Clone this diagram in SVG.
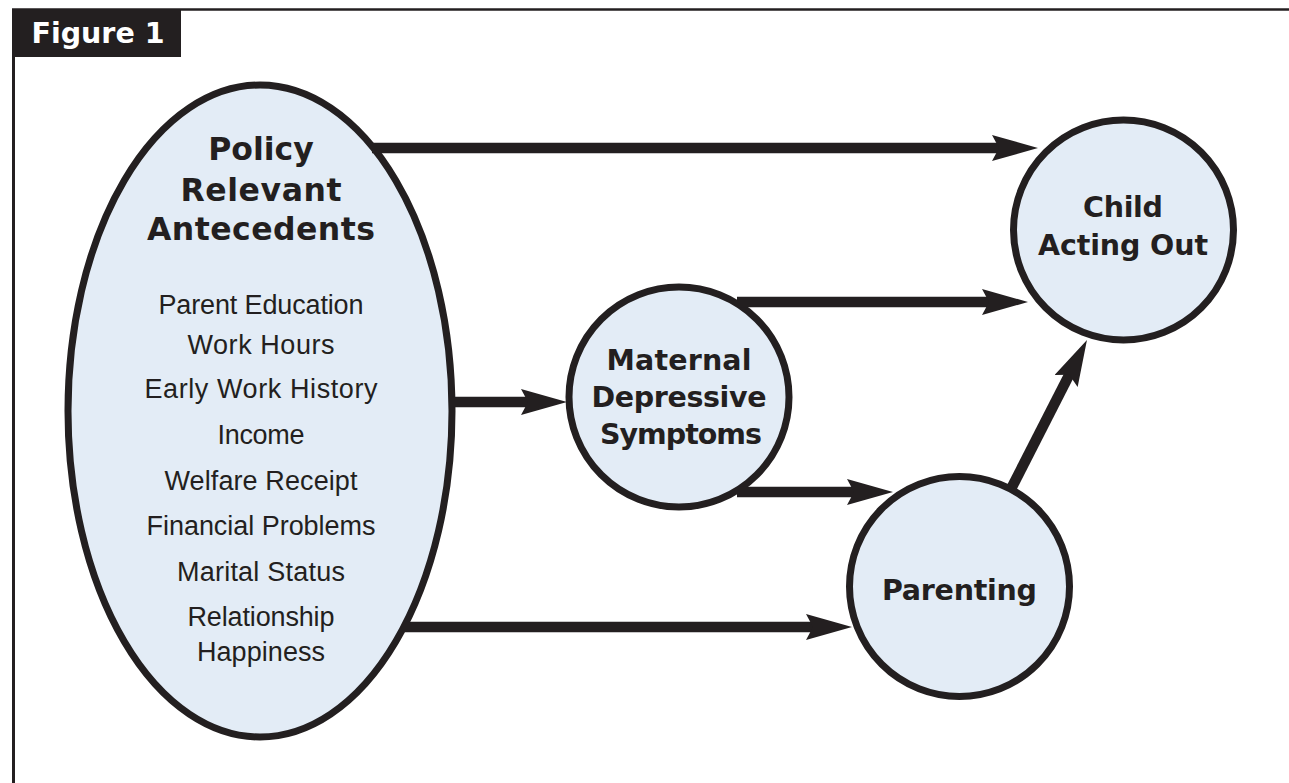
<svg xmlns="http://www.w3.org/2000/svg" width="1289" height="783" viewBox="0 0 1289 783">
  <style>
    .node { fill: #e3ecf6; stroke: #231f20; stroke-width: 7; }
    .hd { font-family: "DejaVu Sans", sans-serif; font-weight: bold; fill: #231f20; text-anchor: middle; }
    .it { font-family: "Liberation Sans", Arial, sans-serif; font-size: 27px; fill: #231f20; text-anchor: middle; }
    .conn { stroke: #231f20; stroke-width: 10.5; fill: none; marker-end: url(#arrow); }
  </style>
  <defs>
    <marker id="arrow" markerUnits="userSpaceOnUse" markerWidth="46" markerHeight="26" refX="8" refY="13" orient="auto" viewBox="0 0 46 26">
      <path d="M0,0 L46,13 L0,26 L7,13 Z" fill="#231f20"/>
    </marker>
  </defs>
  <rect width="1289" height="783" fill="#ffffff"/>

  <g id="frame">
    <line x1="12" y1="9.5" x2="1289" y2="9.5" stroke="#231f20" stroke-width="2.5"/>
    <line x1="13.5" y1="9" x2="13.5" y2="783" stroke="#231f20" stroke-width="3"/>
    <rect x="12" y="9" width="169" height="48" fill="#231f20"/>
    <text x="98" y="43" class="hd" font-size="28.5" style="fill:#ffffff" textLength="133">Figure 1</text>
  </g>

  <g id="antecedents">
    <ellipse class="node" cx="260" cy="411" rx="192" ry="326"/>
    <text class="hd" font-size="31.5" x="261" y="160">Policy</text>
    <text class="hd" font-size="31.5" x="261" y="201" textLength="161">Relevant</text>
    <text class="hd" font-size="31.5" x="261" y="240" textLength="228">Antecedents</text>
    <text class="it" x="261" y="314" textLength="205">Parent Education</text>
    <text class="it" x="261" y="354" textLength="147">Work Hours</text>
    <text class="it" x="261" y="398" textLength="233">Early Work History</text>
    <text class="it" x="261" y="444" textLength="87">Income</text>
    <text class="it" x="261" y="490" textLength="193">Welfare Receipt</text>
    <text class="it" x="261" y="535" textLength="229">Financial Problems</text>
    <text class="it" x="261" y="581" textLength="168">Marital Status</text>
    <text class="it" x="261" y="626" textLength="147">Relationship</text>
    <text class="it" x="261" y="661" textLength="128">Happiness</text>
  </g>

  <g id="maternal">
    <circle class="node" cx="679" cy="397" r="110"/>
    <text class="hd" font-size="28.5" x="679" y="370" textLength="145">Maternal</text>
    <text class="hd" font-size="28.5" x="679" y="407" textLength="175">Depressive</text>
    <text class="hd" font-size="28.5" x="681" y="444" textLength="162">Symptoms</text>
  </g>

  <g id="child">
    <circle class="node" cx="1123.5" cy="230" r="110"/>
    <text class="hd" font-size="28.5" x="1123" y="217" textLength="80">Child</text>
    <text class="hd" font-size="28.5" x="1123" y="255" textLength="170">Acting Out</text>
  </g>

  <g id="parenting">
    <circle class="node" cx="959.5" cy="586.5" r="110"/>
    <text class="hd" font-size="28.5" x="959.5" y="600" textLength="155">Parenting</text>
  </g>

  <g id="connectors">
    <line class="conn" x1="372" y1="148" x2="1000" y2="148"/>
    <line class="conn" x1="737" y1="302" x2="990" y2="302"/>
    <line class="conn" x1="452" y1="402" x2="529" y2="402"/>
    <line class="conn" x1="737" y1="492" x2="855" y2="492"/>
    <line class="conn" x1="405" y1="627" x2="814" y2="627"/>
    <line class="conn" x1="1012" y1="487" x2="1069.7" y2="373.9"/>
  </g>
</svg>
